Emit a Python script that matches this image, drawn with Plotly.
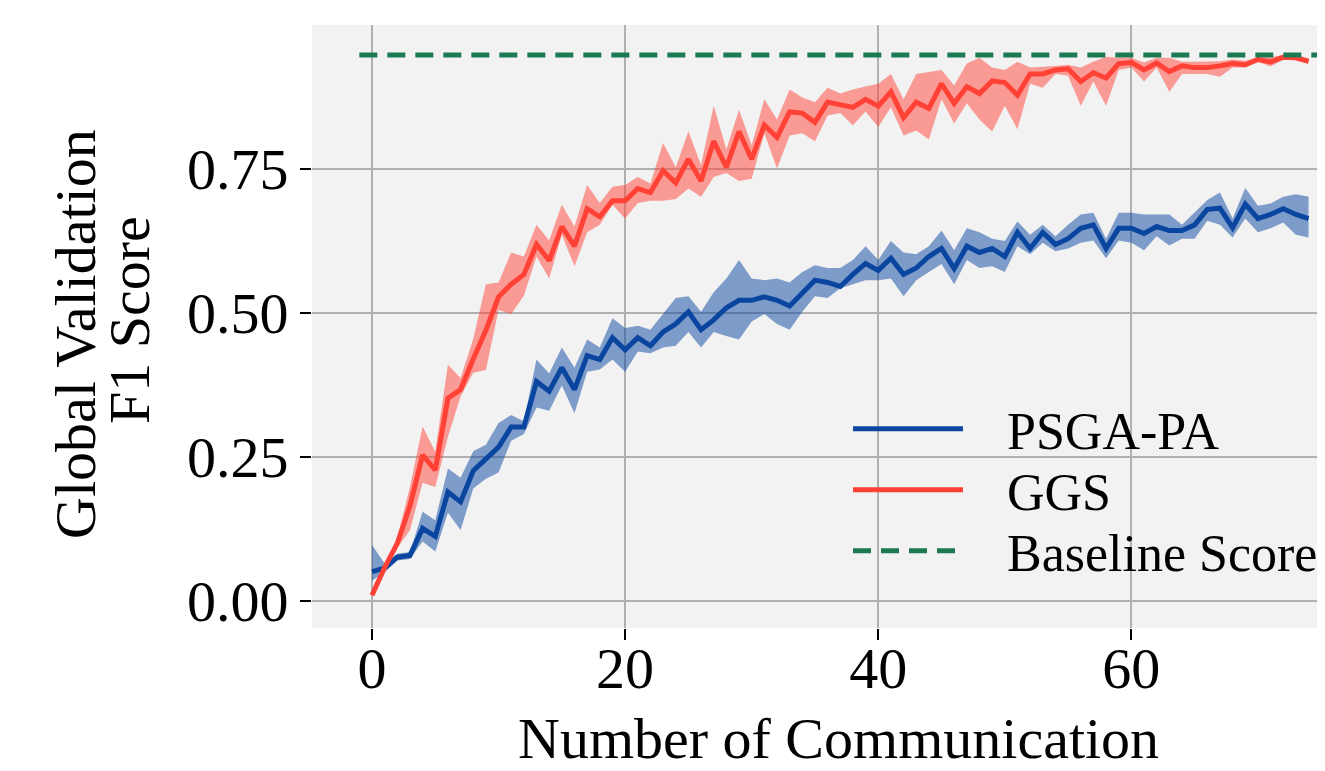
import plotly.graph_objects as go

rounds = list(range(75))

ggs_mean = [0.010, 0.058, 0.100, 0.165, 0.253, 0.227, 0.352, 0.367, 0.420, 0.470,
            0.528, 0.550, 0.567, 0.619, 0.591, 0.650, 0.616, 0.681, 0.667, 0.695,
            0.695, 0.716, 0.709, 0.747, 0.726, 0.767, 0.729, 0.798, 0.753, 0.815,
            0.767, 0.826, 0.805, 0.849, 0.847, 0.831, 0.866, 0.862, 0.857, 0.871,
            0.859, 0.884, 0.839, 0.866, 0.855, 0.898, 0.864, 0.893, 0.881, 0.903,
            0.900, 0.878, 0.915, 0.915, 0.922, 0.924, 0.902, 0.917, 0.908, 0.933,
            0.935, 0.922, 0.934, 0.919, 0.929, 0.926, 0.926, 0.929, 0.933, 0.931,
            0.940, 0.936, 0.944, 0.943, 0.937]
ggs_upper = [0.012, 0.062, 0.110, 0.198, 0.303, 0.259, 0.410, 0.387, 0.455, 0.550,
             0.553, 0.605, 0.598, 0.653, 0.626, 0.688, 0.650, 0.722, 0.691, 0.719,
             0.722, 0.736, 0.725, 0.795, 0.753, 0.815, 0.757, 0.860, 0.784, 0.853,
             0.791, 0.871, 0.836, 0.888, 0.874, 0.866, 0.891, 0.881, 0.888, 0.893,
             0.898, 0.915, 0.871, 0.915, 0.919, 0.922, 0.895, 0.933, 0.943, 0.926,
             0.922, 0.936, 0.926, 0.927, 0.929, 0.931, 0.926, 0.936, 0.945, 0.943,
             0.943, 0.935, 0.943, 0.943, 0.936, 0.936, 0.937, 0.937, 0.940, 0.938,
             0.944, 0.944, 0.948, 0.947, 0.941]
ggs_lower = [0.008, 0.054, 0.092, 0.123, 0.205, 0.198, 0.285, 0.355, 0.396, 0.401,
             0.505, 0.498, 0.530, 0.598, 0.560, 0.636, 0.581, 0.640, 0.653, 0.688,
             0.664, 0.691, 0.695, 0.695, 0.698, 0.716, 0.702, 0.736, 0.743, 0.729,
             0.733, 0.812, 0.751, 0.808, 0.812, 0.798, 0.843, 0.847, 0.826, 0.850,
             0.823, 0.857, 0.808, 0.817, 0.801, 0.871, 0.829, 0.864, 0.836, 0.815,
             0.860, 0.819, 0.898, 0.891, 0.915, 0.912, 0.860, 0.902, 0.860, 0.922,
             0.926, 0.902, 0.926, 0.884, 0.915, 0.915, 0.915, 0.910, 0.926, 0.926,
             0.936, 0.928, 0.940, 0.939, 0.933]

psga_mean = [0.051, 0.057, 0.076, 0.079, 0.126, 0.112, 0.189, 0.172, 0.226, 0.247,
             0.267, 0.302, 0.302, 0.381, 0.364, 0.405, 0.367, 0.426, 0.419, 0.457,
             0.436, 0.457, 0.443, 0.467, 0.481, 0.502, 0.471, 0.488, 0.509, 0.522,
             0.522, 0.528, 0.522, 0.512, 0.536, 0.557, 0.553, 0.546, 0.567, 0.586,
             0.574, 0.595, 0.567, 0.578, 0.598, 0.612, 0.577, 0.616, 0.605, 0.612,
             0.598, 0.640, 0.612, 0.640, 0.619, 0.629, 0.647, 0.653, 0.612, 0.647,
             0.647, 0.638, 0.650, 0.643, 0.643, 0.653, 0.680, 0.682, 0.648, 0.689,
             0.664, 0.671, 0.681, 0.671, 0.664]
psga_upper = [0.097, 0.065, 0.082, 0.085, 0.155, 0.140, 0.230, 0.214, 0.260, 0.271,
              0.309, 0.323, 0.312, 0.419, 0.395, 0.440, 0.405, 0.454, 0.440, 0.491,
              0.474, 0.478, 0.471, 0.498, 0.526, 0.529, 0.502, 0.536, 0.560, 0.592,
              0.560, 0.557, 0.560, 0.553, 0.571, 0.583, 0.578, 0.578, 0.592, 0.616,
              0.592, 0.625, 0.605, 0.602, 0.616, 0.643, 0.609, 0.647, 0.640, 0.629,
              0.625, 0.659, 0.636, 0.653, 0.633, 0.653, 0.671, 0.674, 0.629, 0.674,
              0.674, 0.671, 0.671, 0.671, 0.653, 0.674, 0.696, 0.709, 0.664, 0.717,
              0.686, 0.690, 0.702, 0.706, 0.702]
psga_lower = [0.035, 0.050, 0.070, 0.073, 0.103, 0.086, 0.153, 0.123, 0.195, 0.212,
              0.223, 0.278, 0.290, 0.336, 0.330, 0.374, 0.326, 0.398, 0.402, 0.419,
              0.398, 0.433, 0.430, 0.440, 0.443, 0.467, 0.440, 0.467, 0.460, 0.454,
              0.485, 0.498, 0.481, 0.471, 0.502, 0.529, 0.526, 0.543, 0.550, 0.557,
              0.557, 0.560, 0.529, 0.557, 0.571, 0.585, 0.550, 0.592, 0.578, 0.581,
              0.571, 0.616, 0.602, 0.622, 0.607, 0.612, 0.622, 0.626, 0.595, 0.626,
              0.622, 0.609, 0.633, 0.617, 0.629, 0.629, 0.660, 0.653, 0.631, 0.664,
              0.640, 0.647, 0.657, 0.636, 0.631]

baseline_score = 0.948
baseline_x = [-1, 75]

x_ticks = [0, 20, 40, 60]
y_ticks = [0.0, 0.25, 0.5, 0.75]

BLUE = "#0a46a0"
RED = "#ff4136"
GREEN = "#1c7a52"
FONT = "Liberation Serif"
PAD = "\u00a0\u00a0\u00a0"

# page body adds 8px offset; plot area target: x 312..1325, y 25..628
W, H = 1317, 763
ML, MT, MB = 304, 17, 143
PW = W - ML
PH = H - MT - MB


def px_to_paper_x(px):
    return (px - 8 - ML) / PW


def px_to_paper_y(py):
    return (H - MB - (py - 8)) / PH


fig = go.Figure()

# bands
fig.add_trace(go.Scatter(x=rounds, y=psga_upper, mode="lines", line=dict(width=0),
                         showlegend=False, hoverinfo="skip"))
fig.add_trace(go.Scatter(x=rounds, y=psga_lower, mode="lines", line=dict(width=0),
                         fill="tonexty", fillcolor="rgba(10,70,160,0.5)",
                         showlegend=False, hoverinfo="skip"))
fig.add_trace(go.Scatter(x=rounds, y=ggs_upper, mode="lines", line=dict(width=0),
                         showlegend=False, hoverinfo="skip"))
fig.add_trace(go.Scatter(x=rounds, y=ggs_lower, mode="lines", line=dict(width=0),
                         fill="tonexty", fillcolor="rgba(255,65,54,0.5)",
                         showlegend=False, hoverinfo="skip"))

# mean lines
fig.add_trace(go.Scatter(x=rounds, y=psga_mean, mode="lines", name=PAD + "PSGA-PA",
                         line=dict(color=BLUE, width=5), legend="legend"))
fig.add_trace(go.Scatter(x=rounds, y=ggs_mean, mode="lines", name=PAD + "GGS",
                         line=dict(color=RED, width=5), legend="legend2"))
fig.add_trace(go.Scatter(x=baseline_x, y=[baseline_score] * len(baseline_x), mode="lines",
                         name=PAD + "Baseline Score", legend="legend3",
                         line=dict(color=GREEN, width=5, dash="18px,10px")))

axis_common = dict(
    showgrid=True, gridcolor="#b0b0b0", gridwidth=2,
    zeroline=False, showline=False,
    ticks="outside", ticklen=11, tickwidth=2, tickcolor="black",
    tickfont=dict(family=FONT, size=58, color="black"),
)

legend_common = dict(xanchor="left", yanchor="middle", bgcolor="rgba(0,0,0,0)",
                     borderwidth=0, itemwidth=110, traceorder="normal",
                     font=dict(family=FONT, size=52, color="black"))

LEG_X = px_to_paper_x(848)

fig.update_layout(
    width=W, height=H,
    margin=dict(l=ML, r=0, t=MT, b=MB),
    paper_bgcolor="white",
    plot_bgcolor="#f2f2f2",
    font=dict(family=FONT, size=52, color="black"),
    xaxis=dict(range=[-4.74, 75.3], tickvals=x_ticks, ticktext=[str(v) for v in x_ticks],
               ticklabelstandoff=-22, automargin=False, **axis_common),
    yaxis=dict(range=[-0.047, 1.0], tickvals=y_ticks, ticktext=[f"{v:.2f}" for v in y_ticks],
               automargin=False, **axis_common),
    legend=dict(x=LEG_X, y=px_to_paper_y(429), **legend_common),
    legend2=dict(x=LEG_X, y=px_to_paper_y(490), **legend_common),
    legend3=dict(x=LEG_X, y=px_to_paper_y(551), **legend_common),
    showlegend=True,
    annotations=[
        dict(text="Global Validation", textangle=-90, xref="paper", yref="paper",
             x=px_to_paper_x(75), y=px_to_paper_y(334), xanchor="center", yanchor="middle",
             showarrow=False, font=dict(family=FONT, size=58, color="black")),
        dict(text="F1 Score", textangle=-90, xref="paper", yref="paper",
             x=px_to_paper_x(129), y=px_to_paper_y(320), xanchor="center", yanchor="middle",
             showarrow=False, font=dict(family=FONT, size=58, color="black")),
        dict(text="Number of Communication", xref="paper", yref="paper",
             x=px_to_paper_x(838), y=px_to_paper_y(738), xanchor="center", yanchor="middle",
             showarrow=False, font=dict(family=FONT, size=58, color="black")),
    ],
)

fig.write_html("out.html")
